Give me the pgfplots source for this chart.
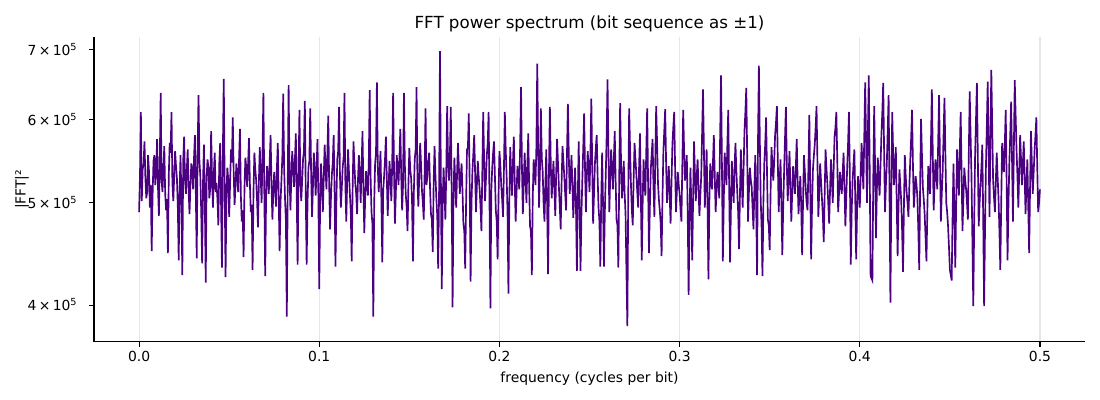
\documentclass[border=0pt]{standalone}
\usepackage{fontspec}
\setmainfont{DejaVu Sans}
\usepackage{pgfplots}
\pgfplotsset{compat=1.18}
\definecolor{indig}{HTML}{4B0082}
\definecolor{gridc}{HTML}{E6E6E6}
\begin{document}
\begin{tikzpicture}
\useasboundingbox (-67.7pt,-41.8pt) rectangle (724.3pt,246.2pt);
\begin{axis}[
  scale only axis, width=713.5pt, height=219.6pt,
  ymode=log, xmin=-0.025, xmax=0.525, ymin=3.69e5, ymax=7.19e5,
  axis x line*=bottom, axis y line*=left,
  x axis line style={-}, y axis line style={-},
  axis line style={line width=0.8pt, black},
  tick align=outside, major tick length=3.5pt,
  tick style={line width=0.8pt, black},
  xtick={0,0.1,0.2,0.3,0.4,0.5},
  xticklabels={0.0,0.1,0.2,0.3,0.4,0.5},
  ytick={4e5,5e5,6e5,7e5},
  yticklabels={4\,×\,10\textsuperscript{5},5\,×\,10\textsuperscript{5},6\,×\,10\textsuperscript{5},7\,×\,10\textsuperscript{5}},
  yminorticks=false, xminorticks=false,
  ytick style={line width=0.6pt, black},
  xmajorgrids=true, ymajorgrids=false,
  grid style={gridc, line width=0.8pt},
  ticklabel style={font=\fontsize{10}{12}\selectfont},
  yticklabel style={xshift=-5pt},
  title={FFT power spectrum (bit sequence as ±1)},
  title style={font=\fontsize{12}{14}\selectfont, at={(axis description cs:0.5,1)}, anchor=base, yshift=0.3pt},
  xlabel={frequency (cycles per bit)},
  xlabel style={font=\fontsize{10}{12}\selectfont, at={(axis description cs:0.5,0)}, anchor=center, yshift=-26.6pt},
  ylabel={|FFT|²},
  ylabel style={font=\fontsize{10}{12}\selectfont, at={(axis description cs:-0.0726,0.5)}, anchor=center},
  clip=true,
]
\addplot[indig, line width=1.2pt, line join=miter] coordinates {
(0.0000,4.90e5)(0.0005,5.30e5)(0.0010,6.10e5)(0.0015,5.02e5)(0.0020,5.38e5)(0.0025,5.45e5)(0.0030,5.72e5)(0.0035,5.28e5)(0.0040,5.05e5)(0.0045,5.12e5)(0.0050,5.55e5)(0.0055,5.36e5)(0.0060,4.95e5)(0.0065,5.20e5)(0.0070,4.50e5)(0.0075,5.08e5)(0.0080,5.48e5)(0.0085,5.55e5)(0.0090,5.20e5)(0.0095,5.34e5)
(0.0100,5.75e5)(0.0105,5.18e5)(0.0110,4.86e5)(0.0115,5.50e5)(0.0120,6.36e5)(0.0125,5.25e5)(0.0130,5.12e5)(0.0135,5.40e5)(0.0140,5.66e5)(0.0145,5.10e5)(0.0150,4.92e5)(0.0155,5.04e5)(0.0160,4.48e5)(0.0165,5.32e5)(0.0170,5.70e5)(0.0175,5.58e5)(0.0180,6.10e5)(0.0185,5.22e5)(0.0190,5.02e5)(0.0195,5.30e5)
(0.0200,5.60e5)(0.0205,5.42e5)(0.0210,5.28e5)(0.0215,4.96e5)(0.0220,4.41e5)(0.0225,5.15e5)(0.0230,5.55e5)(0.0235,5.05e5)(0.0240,4.27e5)(0.0245,5.48e5)(0.0250,5.78e5)(0.0255,5.26e5)(0.0260,5.10e5)(0.0265,5.38e5)(0.0270,5.62e5)(0.0275,5.14e5)(0.0280,4.88e5)(0.0285,5.20e5)(0.0290,5.45e5)(0.0295,5.36e5)
(0.0300,5.15e5)(0.0305,5.52e5)(0.0310,5.80e5)(0.0315,5.10e5)(0.0320,4.43e5)(0.0325,5.62e5)(0.0330,6.33e5)(0.0335,5.48e5)(0.0340,5.30e5)(0.0345,4.90e5)(0.0350,4.38e5)(0.0355,5.24e5)(0.0360,5.68e5)(0.0365,5.02e5)(0.0370,4.20e5)(0.0375,5.30e5)(0.0380,5.50e5)(0.0385,5.40e5)(0.0390,5.05e5)(0.0395,5.16e5)
(0.0400,5.85e5)(0.0405,5.28e5)(0.0410,4.95e5)(0.0415,5.34e5)(0.0420,5.58e5)(0.0425,5.12e5)(0.0430,5.22e5)(0.0435,5.04e5)(0.0440,4.76e5)(0.0445,5.44e5)(0.0450,5.70e5)(0.0455,5.00e5)(0.0460,4.34e5)(0.0465,5.58e5)(0.0470,6.56e5)(0.0475,5.22e5)(0.0480,4.25e5)(0.0485,5.10e5)(0.0490,5.40e5)(0.0495,5.26e5)
(0.0500,4.85e5)(0.0505,5.20e5)(0.0510,5.62e5)(0.0515,5.46e5)(0.0520,6.03e5)(0.0525,5.35e5)(0.0530,4.98e5)(0.0535,5.18e5)(0.0540,5.45e5)(0.0545,5.30e5)(0.0550,5.12e5)(0.0555,5.50e5)(0.0560,5.88e5)(0.0565,5.08e5)(0.0570,4.80e5)(0.0575,4.92e5)(0.0580,4.44e5)(0.0585,5.16e5)(0.0590,5.52e5)(0.0595,5.40e5)
(0.0600,5.18e5)(0.0605,5.44e5)(0.0610,5.76e5)(0.0615,5.22e5)(0.0620,4.90e5)(0.0625,4.98e5)(0.0630,4.32e5)(0.0635,5.12e5)(0.0640,5.58e5)(0.0645,5.38e5)(0.0650,5.25e5)(0.0655,5.02e5)(0.0660,4.74e5)(0.0665,5.24e5)(0.0670,5.65e5)(0.0675,5.30e5)(0.0680,5.00e5)(0.0685,5.55e5)(0.0690,6.36e5)(0.0695,5.14e5)
(0.0700,4.26e5)(0.0705,5.06e5)(0.0710,5.42e5)(0.0715,5.30e5)(0.0720,5.10e5)(0.0725,5.48e5)(0.0730,5.80e5)(0.0735,5.20e5)(0.0740,4.82e5)(0.0745,5.12e5)(0.0750,5.35e5)(0.0755,5.16e5)(0.0760,4.96e5)(0.0765,5.40e5)(0.0770,5.70e5)(0.0775,5.04e5)(0.0780,4.50e5)(0.0785,5.00e5)(0.0790,5.25e5)(0.0795,5.52e5)
(0.0800,6.35e5)(0.0805,5.40e5)(0.0810,5.05e5)(0.0815,4.80e5)(0.0820,3.90e5)(0.0825,5.20e5)(0.0830,6.47e5)(0.0835,5.36e5)(0.0840,4.92e5)(0.0845,5.28e5)(0.0850,5.60e5)(0.0855,5.42e5)(0.0860,5.18e5)(0.0865,5.50e5)(0.0870,5.82e5)(0.0875,5.08e5)(0.0880,4.37e5)(0.0885,5.30e5)(0.0890,6.13e5)(0.0895,5.26e5)
(0.0900,5.02e5)(0.0905,5.24e5)(0.0910,5.50e5)(0.0915,5.60e5)(0.0920,6.25e5)(0.0925,5.12e5)(0.0930,4.37e5)(0.0935,5.00e5)(0.0940,5.40e5)(0.0945,5.48e5)(0.0950,6.15e5)(0.0955,5.32e5)(0.0960,4.85e5)(0.0965,5.18e5)(0.0970,5.58e5)(0.0975,5.40e5)(0.0980,5.08e5)(0.0985,5.36e5)(0.0990,5.75e5)(0.0995,5.10e5)
(0.1000,4.14e5)(0.1005,5.02e5)(0.1010,5.45e5)(0.1015,5.20e5)(0.1020,4.90e5)(0.1025,5.28e5)(0.1030,5.68e5)(0.1035,5.38e5)(0.1040,5.15e5)(0.1045,5.56e5)(0.1050,6.05e5)(0.1055,5.22e5)(0.1060,4.72e5)(0.1065,5.06e5)(0.1070,5.32e5)(0.1075,5.46e5)(0.1080,5.80e5)(0.1085,5.14e5)(0.1090,4.35e5)(0.1095,5.00e5)
(0.1100,5.50e5)(0.1105,5.60e5)(0.1110,6.17e5)(0.1115,5.30e5)(0.1120,4.95e5)(0.1125,5.16e5)(0.1130,5.40e5)(0.1135,5.52e5)(0.1140,6.36e5)(0.1145,5.20e5)(0.1150,4.80e5)(0.1155,5.24e5)(0.1160,5.62e5)(0.1165,5.34e5)(0.1170,5.10e5)(0.1175,4.90e5)(0.1180,4.40e5)(0.1185,5.12e5)(0.1190,5.72e5)(0.1195,5.44e5)
(0.1200,5.22e5)(0.1205,5.10e5)(0.1210,4.88e5)(0.1215,5.26e5)(0.1220,5.55e5)(0.1225,5.32e5)(0.1230,5.00e5)(0.1235,5.42e5)(0.1240,5.85e5)(0.1245,5.18e5)(0.1250,4.68e5)(0.1255,5.06e5)(0.1260,5.36e5)(0.1265,5.22e5)(0.1270,5.08e5)(0.1275,5.48e5)(0.1280,6.40e5)(0.1285,5.30e5)(0.1290,4.90e5)(0.1295,4.78e5)
(0.1300,3.90e5)(0.1305,5.00e5)(0.1310,5.45e5)(0.1315,5.58e5)(0.1320,6.51e5)(0.1325,5.40e5)(0.1330,5.12e5)(0.1335,5.34e5)(0.1340,5.60e5)(0.1345,5.02e5)(0.1350,4.39e5)(0.1355,5.14e5)(0.1360,5.30e5)(0.1365,5.50e5)(0.1370,5.78e5)(0.1375,5.28e5)(0.1380,4.86e5)(0.1385,5.18e5)(0.1390,5.48e5)(0.1395,5.26e5)
(0.1400,5.02e5)(0.1405,5.46e5)(0.1410,6.36e5)(0.1415,5.36e5)(0.1420,4.78e5)(0.1425,5.10e5)(0.1430,5.55e5)(0.1435,5.40e5)(0.1440,5.20e5)(0.1445,5.52e5)(0.1450,5.88e5)(0.1455,5.30e5)(0.1460,4.92e5)(0.1465,5.20e5)(0.1470,6.36e5)(0.1475,5.44e5)(0.1480,5.10e5)(0.1485,4.96e5)(0.1490,4.70e5)(0.1495,5.22e5)
(0.1500,5.64e5)(0.1505,5.38e5)(0.1510,5.28e5)(0.1515,5.02e5)(0.1520,4.40e5)(0.1525,5.12e5)(0.1530,5.50e5)(0.1535,5.62e5)(0.1540,6.44e5)(0.1545,5.24e5)(0.1550,4.96e5)(0.1555,5.30e5)(0.1560,5.70e5)(0.1565,5.44e5)(0.1570,5.14e5)(0.1575,5.00e5)(0.1580,4.82e5)(0.1585,5.36e5)(0.1590,6.15e5)(0.1595,5.20e5)
(0.1600,5.30e5)(0.1605,5.48e5)(0.1610,5.58e5)(0.1615,5.16e5)(0.1620,4.88e5)(0.1625,4.82e5)(0.1630,4.49e5)(0.1635,5.24e5)(0.1640,5.66e5)(0.1645,5.30e5)(0.1650,5.05e5)(0.1655,4.86e5)(0.1660,4.33e5)(0.1665,5.10e5)(0.1670,6.97e5)(0.1675,5.28e5)(0.1680,4.14e5)(0.1685,5.00e5)(0.1690,5.40e5)(0.1695,5.12e5)
(0.1700,4.82e5)(0.1705,5.36e5)(0.1710,6.18e5)(0.1715,5.46e5)(0.1720,5.25e5)(0.1725,5.52e5)(0.1730,6.17e5)(0.1735,5.10e5)(0.1740,3.98e5)(0.1745,5.06e5)(0.1750,5.52e5)(0.1755,5.22e5)(0.1760,4.95e5)(0.1765,5.34e5)(0.1770,5.70e5)(0.1775,5.40e5)(0.1780,5.10e5)(0.1785,5.28e5)(0.1790,5.45e5)(0.1795,5.14e5)
(0.1800,4.78e5)(0.1805,4.70e5)(0.1810,4.33e5)(0.1815,5.00e5)(0.1820,5.62e5)(0.1825,5.64e5)(0.1830,6.08e5)(0.1835,5.18e5)(0.1840,4.21e5)(0.1845,5.00e5)(0.1850,5.35e5)(0.1855,5.56e5)(0.1860,5.80e5)(0.1865,5.34e5)(0.1870,4.90e5)(0.1875,5.20e5)(0.1880,5.48e5)(0.1885,5.30e5)(0.1890,5.15e5)(0.1895,4.96e5)
(0.1900,4.70e5)(0.1905,5.34e5)(0.1910,6.10e5)(0.1915,5.50e5)(0.1920,5.02e5)(0.1925,5.26e5)(0.1930,5.55e5)(0.1935,5.70e5)(0.1940,6.10e5)(0.1945,5.00e5)(0.1950,3.97e5)(0.1955,5.14e5)(0.1960,5.40e5)(0.1965,5.58e5)(0.1970,5.72e5)(0.1975,5.30e5)(0.1980,4.92e5)(0.1985,4.80e5)(0.1990,4.42e5)(0.1995,5.08e5)
(0.2000,5.60e5)(0.2005,5.44e5)(0.2010,5.20e5)(0.2015,5.04e5)(0.2020,4.85e5)(0.2025,5.38e5)(0.2030,6.10e5)(0.2035,5.62e5)(0.2040,5.30e5)(0.2045,4.90e5)(0.2050,4.10e5)(0.2055,5.02e5)(0.2060,5.65e5)(0.2065,5.34e5)(0.2070,5.08e5)(0.2075,5.46e5)(0.2080,5.78e5)(0.2085,5.24e5)(0.2090,4.80e5)(0.2095,5.10e5)
(0.2100,5.42e5)(0.2105,5.30e5)(0.2110,5.15e5)(0.2115,5.66e5)(0.2120,6.44e5)(0.2125,5.40e5)(0.2130,4.88e5)(0.2135,5.22e5)(0.2140,5.58e5)(0.2145,5.28e5)(0.2150,5.00e5)(0.2155,5.42e5)(0.2160,5.82e5)(0.2165,5.18e5)(0.2170,4.75e5)(0.2175,4.70e5)(0.2180,4.27e5)(0.2185,5.06e5)(0.2190,5.50e5)(0.2195,5.36e5)
(0.2200,5.20e5)(0.2205,5.64e5)(0.2210,6.78e5)(0.2215,5.62e5)(0.2220,4.95e5)(0.2225,5.40e5)(0.2230,6.15e5)(0.2235,5.52e5)(0.2240,5.36e5)(0.2245,5.00e5)(0.2250,4.80e5)(0.2255,5.20e5)(0.2260,5.62e5)(0.2265,4.95e5)(0.2270,4.28e5)(0.2275,5.36e5)(0.2280,6.17e5)(0.2285,5.44e5)(0.2290,5.05e5)(0.2295,5.26e5)
(0.2300,5.48e5)(0.2305,5.16e5)(0.2310,4.86e5)(0.2315,5.34e5)(0.2320,5.75e5)(0.2325,5.46e5)(0.2330,5.18e5)(0.2335,4.96e5)(0.2340,4.72e5)(0.2345,5.22e5)(0.2350,5.66e5)(0.2355,5.48e5)(0.2360,5.30e5)(0.2365,5.10e5)(0.2370,4.92e5)(0.2375,5.58e5)(0.2380,6.21e5)(0.2385,5.56e5)(0.2390,5.10e5)(0.2395,5.28e5)
(0.2400,5.55e5)(0.2405,5.20e5)(0.2410,4.84e5)(0.2415,5.12e5)(0.2420,5.40e5)(0.2425,4.94e5)(0.2430,4.31e5)(0.2435,5.06e5)(0.2440,5.72e5)(0.2445,5.00e5)(0.2450,4.31e5)(0.2455,4.86e5)(0.2460,5.25e5)(0.2465,5.62e5)(0.2470,6.08e5)(0.2475,5.40e5)(0.2480,4.90e5)(0.2485,5.30e5)(0.2490,5.60e5)(0.2495,5.38e5)
(0.2500,5.12e5)(0.2505,5.56e5)(0.2510,6.28e5)(0.2515,5.42e5)(0.2520,4.78e5)(0.2525,5.10e5)(0.2530,5.45e5)(0.2535,5.64e5)(0.2540,5.80e5)(0.2545,5.30e5)(0.2550,4.95e5)(0.2555,4.80e5)(0.2560,4.35e5)(0.2565,5.04e5)(0.2570,5.58e5)(0.2575,5.00e5)(0.2580,4.35e5)(0.2585,4.90e5)(0.2590,5.30e5)(0.2595,5.78e5)
(0.2600,6.55e5)(0.2605,5.60e5)(0.2610,4.90e5)(0.2615,5.30e5)(0.2620,5.62e5)(0.2625,5.38e5)(0.2630,5.15e5)(0.2635,5.50e5)(0.2640,5.85e5)(0.2645,5.24e5)(0.2650,4.82e5)(0.2655,4.76e5)(0.2660,4.34e5)(0.2665,5.30e5)(0.2670,6.22e5)(0.2675,5.46e5)(0.2680,5.05e5)(0.2685,5.20e5)(0.2690,5.48e5)(0.2695,5.10e5)
(0.2700,4.88e5)(0.2705,4.30e5)(0.2710,3.82e5)(0.2715,5.10e5)(0.2720,6.15e5)(0.2725,5.64e5)(0.2730,5.20e5)(0.2735,4.92e5)(0.2740,4.76e5)(0.2745,5.28e5)(0.2750,5.70e5)(0.2755,5.50e5)(0.2760,5.32e5)(0.2765,5.12e5)(0.2770,4.95e5)(0.2775,5.40e5)(0.2780,5.82e5)(0.2785,5.06e5)(0.2790,4.41e5)(0.2795,5.00e5)
(0.2800,5.50e5)(0.2805,5.22e5)(0.2810,5.08e5)(0.2815,5.60e5)(0.2820,6.15e5)(0.2825,5.24e5)(0.2830,4.48e5)(0.2835,4.96e5)(0.2840,5.38e5)(0.2845,5.56e5)(0.2850,5.75e5)(0.2855,5.18e5)(0.2860,4.85e5)(0.2865,5.48e5)(0.2870,6.18e5)(0.2875,5.70e5)(0.2880,5.22e5)(0.2885,5.04e5)(0.2890,4.92e5)(0.2895,4.78e5)
(0.2900,4.45e5)(0.2905,5.06e5)(0.2910,5.60e5)(0.2915,5.86e5)(0.2920,6.14e5)(0.2925,5.46e5)(0.2930,5.00e5)(0.2935,5.20e5)(0.2940,5.42e5)(0.2945,5.08e5)(0.2950,4.78e5)(0.2955,5.22e5)(0.2960,5.68e5)(0.2965,5.90e5)(0.2970,6.10e5)(0.2975,5.40e5)(0.2980,4.90e5)(0.2985,5.14e5)(0.2990,5.35e5)(0.2995,5.20e5)
(0.3000,5.10e5)(0.3005,4.94e5)(0.3010,4.80e5)(0.3015,5.42e5)(0.3020,6.13e5)(0.3025,5.60e5)(0.3030,5.25e5)(0.3035,5.38e5)(0.3040,5.55e5)(0.3045,4.88e5)(0.3050,4.09e5)(0.3055,4.80e5)(0.3060,5.40e5)(0.3065,4.98e5)(0.3070,4.41e5)(0.3075,5.06e5)(0.3080,5.72e5)(0.3085,5.34e5)(0.3090,5.02e5)(0.3095,5.30e5)
(0.3100,5.50e5)(0.3105,5.16e5)(0.3110,4.86e5)(0.3115,5.08e5)(0.3120,5.30e5)(0.3125,5.84e5)(0.3130,6.41e5)(0.3135,5.60e5)(0.3140,4.95e5)(0.3145,5.26e5)(0.3150,5.62e5)(0.3155,4.98e5)(0.3160,4.23e5)(0.3165,5.00e5)(0.3170,5.45e5)(0.3175,5.28e5)(0.3180,5.15e5)(0.3185,5.46e5)(0.3190,5.80e5)(0.3195,5.32e5)
(0.3200,4.90e5)(0.3205,5.14e5)(0.3210,5.35e5)(0.3215,5.22e5)(0.3220,5.05e5)(0.3225,5.80e5)(0.3230,6.61e5)(0.3235,5.42e5)(0.3240,4.40e5)(0.3245,5.00e5)(0.3250,5.58e5)(0.3255,5.40e5)(0.3260,5.20e5)(0.3265,5.68e5)(0.3270,6.13e5)(0.3275,5.20e5)(0.3280,4.39e5)(0.3285,4.96e5)(0.3290,5.48e5)(0.3295,5.20e5)
(0.3300,5.00e5)(0.3305,5.40e5)(0.3310,5.70e5)(0.3315,5.36e5)(0.3320,5.12e5)(0.3325,4.90e5)(0.3330,4.52e5)(0.3335,5.10e5)(0.3340,5.62e5)(0.3345,5.24e5)(0.3350,4.95e5)(0.3355,5.38e5)(0.3360,5.85e5)(0.3365,6.10e5)(0.3370,6.43e5)(0.3375,5.56e5)(0.3380,4.80e5)(0.3385,5.14e5)(0.3390,5.40e5)(0.3395,5.26e5)
(0.3400,5.18e5)(0.3405,4.94e5)(0.3410,4.72e5)(0.3415,5.16e5)(0.3420,5.55e5)(0.3425,4.96e5)(0.3430,4.27e5)(0.3435,5.70e5)(0.3440,6.75e5)(0.3445,5.78e5)(0.3450,5.05e5)(0.3455,4.74e5)(0.3460,4.26e5)(0.3465,5.00e5)(0.3470,5.45e5)(0.3475,5.68e5)(0.3480,6.03e5)(0.3485,5.36e5)(0.3490,4.82e5)(0.3495,4.76e5)
(0.3500,4.51e5)(0.3505,5.12e5)(0.3510,5.65e5)(0.3515,5.44e5)(0.3520,5.25e5)(0.3525,5.48e5)(0.3530,5.80e5)(0.3535,5.96e5)(0.3540,6.18e5)(0.3545,5.48e5)(0.3550,4.90e5)(0.3555,5.20e5)(0.3560,5.50e5)(0.3565,5.02e5)(0.3570,4.46e5)(0.3575,4.96e5)(0.3580,5.35e5)(0.3585,5.76e5)(0.3590,6.17e5)(0.3595,5.44e5)
(0.3600,5.02e5)(0.3605,5.30e5)(0.3610,5.60e5)(0.3615,5.16e5)(0.3620,4.80e5)(0.3625,5.12e5)(0.3630,5.42e5)(0.3635,5.24e5)(0.3640,5.10e5)(0.3645,5.40e5)(0.3650,5.75e5)(0.3655,5.26e5)(0.3660,4.88e5)(0.3665,5.10e5)(0.3670,5.30e5)(0.3675,4.96e5)(0.3680,4.46e5)(0.3685,5.00e5)(0.3690,5.55e5)(0.3695,5.36e5)
(0.3700,5.15e5)(0.3705,5.00e5)(0.3710,4.92e5)(0.3715,5.40e5)(0.3720,6.06e5)(0.3725,5.20e5)(0.3730,4.42e5)(0.3735,4.96e5)(0.3740,5.38e5)(0.3745,5.54e5)(0.3750,5.68e5)(0.3755,5.90e5)(0.3760,6.18e5)(0.3765,5.46e5)(0.3770,4.85e5)(0.3775,5.12e5)(0.3780,5.45e5)(0.3785,5.24e5)(0.3790,5.05e5)(0.3795,4.86e5)
(0.3800,4.59e5)(0.3805,5.08e5)(0.3810,5.62e5)(0.3815,5.40e5)(0.3820,5.22e5)(0.3825,5.00e5)(0.3830,4.78e5)(0.3835,5.14e5)(0.3840,5.50e5)(0.3845,5.26e5)(0.3850,5.00e5)(0.3855,5.38e5)(0.3860,5.78e5)(0.3865,5.90e5)(0.3870,6.10e5)(0.3875,5.50e5)(0.3880,4.90e5)(0.3885,5.12e5)(0.3890,5.35e5)(0.3895,5.20e5)
(0.3900,5.10e5)(0.3905,5.34e5)(0.3910,5.58e5)(0.3915,5.18e5)(0.3920,4.75e5)(0.3925,5.06e5)(0.3930,5.40e5)(0.3935,5.70e5)(0.3940,6.10e5)(0.3945,5.28e5)(0.3950,4.37e5)(0.3955,4.90e5)(0.3960,5.25e5)(0.3965,5.44e5)(0.3970,5.62e5)(0.3975,5.02e5)(0.3980,4.42e5)(0.3985,4.92e5)(0.3990,5.30e5)(0.3995,5.12e5)
(0.4000,4.95e5)(0.4005,5.30e5)(0.4010,5.70e5)(0.4015,5.40e5)(0.4020,5.15e5)(0.4025,5.80e5)(0.4030,6.51e5)(0.4035,5.70e5)(0.4040,5.00e5)(0.4045,5.84e5)(0.4050,6.61e5)(0.4055,5.40e5)(0.4060,4.26e5)(0.4065,4.24e5)(0.4070,4.22e5)(0.4075,5.30e5)(0.4080,6.18e5)(0.4085,5.40e5)(0.4090,4.63e5)(0.4095,5.16e5)
(0.4100,5.52e5)(0.4105,5.28e5)(0.4110,5.08e5)(0.4115,5.42e5)(0.4120,5.80e5)(0.4125,6.10e5)(0.4130,6.50e5)(0.4135,5.60e5)(0.4140,4.90e5)(0.4145,5.20e5)(0.4150,5.45e5)(0.4155,5.86e5)(0.4160,6.33e5)(0.4165,5.10e5)(0.4170,4.02e5)(0.4175,5.10e5)(0.4180,6.10e5)(0.4185,5.58e5)(0.4190,5.20e5)(0.4195,5.40e5)
(0.4200,5.65e5)(0.4205,5.00e5)(0.4210,4.45e5)(0.4215,4.96e5)(0.4220,5.38e5)(0.4225,5.20e5)(0.4230,5.02e5)(0.4235,4.70e5)(0.4240,4.30e5)(0.4245,4.96e5)(0.4250,5.55e5)(0.4255,5.30e5)(0.4260,5.12e5)(0.4265,5.00e5)(0.4270,4.85e5)(0.4275,5.18e5)(0.4280,5.48e5)(0.4285,5.76e5)(0.4290,6.13e5)(0.4295,5.44e5)
(0.4300,4.95e5)(0.4305,5.12e5)(0.4310,5.30e5)(0.4315,5.20e5)(0.4320,5.05e5)(0.4325,4.70e5)(0.4330,4.32e5)(0.4335,5.20e5)(0.4340,6.01e5)(0.4345,5.56e5)(0.4350,5.18e5)(0.4355,5.04e5)(0.4360,4.88e5)(0.4365,4.64e5)(0.4370,4.40e5)(0.4375,4.92e5)(0.4380,5.42e5)(0.4385,5.26e5)(0.4390,5.10e5)(0.4395,5.70e5)
(0.4400,6.41e5)(0.4405,5.60e5)(0.4410,4.92e5)(0.4415,5.20e5)(0.4420,5.50e5)(0.4425,5.34e5)(0.4430,5.15e5)(0.4435,5.70e5)(0.4440,6.33e5)(0.4445,5.50e5)(0.4450,4.80e5)(0.4455,5.10e5)(0.4460,5.35e5)(0.4465,5.80e5)(0.4470,6.29e5)(0.4475,5.58e5)(0.4480,5.00e5)(0.4485,4.90e5)(0.4490,4.75e5)(0.4495,4.54e5)
(0.4500,4.32e5)(0.4505,4.27e5)(0.4510,4.22e5)(0.4515,4.84e5)(0.4520,5.45e5)(0.4525,4.90e5)(0.4530,4.34e5)(0.4535,5.00e5)(0.4540,5.62e5)(0.4545,5.34e5)(0.4550,5.08e5)(0.4555,5.60e5)(0.4560,6.10e5)(0.4565,5.36e5)(0.4570,4.70e5)(0.4575,5.04e5)(0.4580,5.40e5)(0.4585,5.26e5)(0.4590,5.15e5)(0.4595,5.00e5)
(0.4600,4.82e5)(0.4605,5.56e5)(0.4610,6.38e5)(0.4615,5.80e5)(0.4620,5.30e5)(0.4625,4.60e5)(0.4630,3.99e5)(0.4635,4.80e5)(0.4640,5.55e5)(0.4645,6.00e5)(0.4650,6.50e5)(0.4655,5.56e5)(0.4660,4.75e5)(0.4665,5.00e5)(0.4670,5.20e5)(0.4675,5.40e5)(0.4680,5.68e5)(0.4685,4.84e5)(0.4690,3.99e5)(0.4695,4.70e5)
(0.4700,5.40e5)(0.4705,5.90e5)(0.4710,6.52e5)(0.4715,5.60e5)(0.4720,4.85e5)(0.4725,5.76e5)(0.4730,6.69e5)(0.4735,5.90e5)(0.4740,5.25e5)(0.4745,5.06e5)(0.4750,4.90e5)(0.4755,5.24e5)(0.4760,5.58e5)(0.4765,5.30e5)(0.4770,5.05e5)(0.4775,4.70e5)(0.4780,4.32e5)(0.4785,5.00e5)(0.4790,5.70e5)(0.4795,5.50e5)
(0.4800,5.35e5)(0.4805,5.70e5)(0.4810,6.13e5)(0.4815,5.24e5)(0.4820,4.41e5)(0.4825,4.96e5)(0.4830,5.45e5)(0.4835,5.80e5)(0.4840,6.24e5)(0.4845,5.50e5)(0.4850,4.80e5)(0.4855,5.60e5)(0.4860,6.54e5)(0.4865,6.06e5)(0.4870,5.62e5)(0.4875,5.30e5)(0.4880,4.95e5)(0.4885,5.36e5)(0.4890,5.80e5)(0.4895,5.50e5)
(0.4900,5.20e5)(0.4905,5.44e5)(0.4910,5.72e5)(0.4915,5.30e5)(0.4920,4.88e5)(0.4925,5.20e5)(0.4930,5.50e5)(0.4935,4.96e5)(0.4940,4.48e5)(0.4945,5.16e5)(0.4950,5.85e5)(0.4955,5.46e5)(0.4960,5.10e5)(0.4965,5.34e5)(0.4970,5.60e5)(0.4975,5.80e5)(0.4980,6.03e5)(0.4985,5.40e5)(0.4990,4.90e5)(0.4995,5.00e5)
(0.5000,5.15e5)
};
\end{axis}
\end{tikzpicture}
\end{document}
